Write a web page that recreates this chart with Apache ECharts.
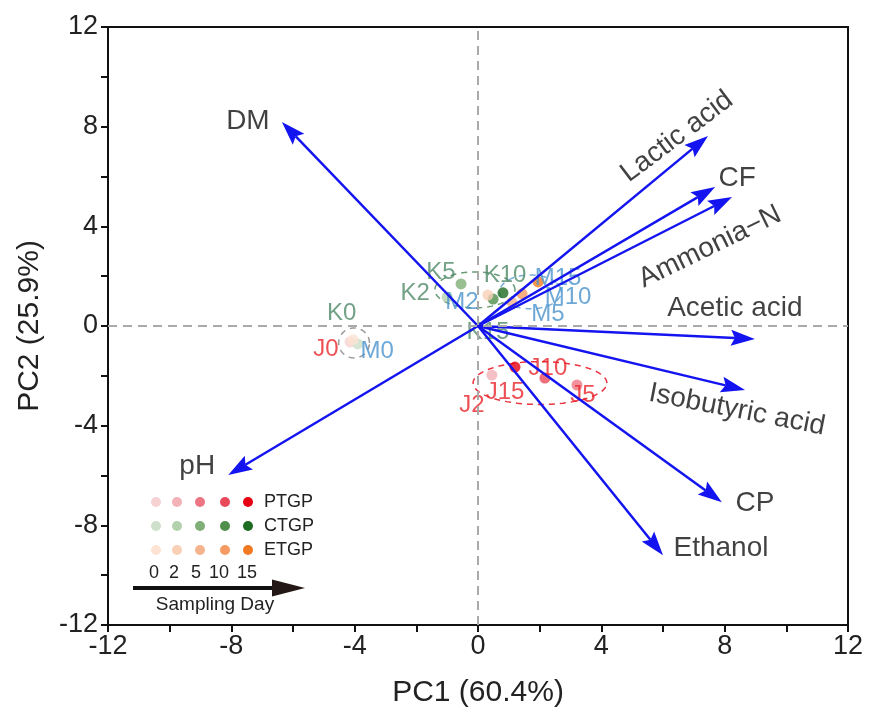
<!DOCTYPE html>
<html>
<head>
<meta charset="utf-8">
<script src="https://cdn.jsdelivr.net/npm/echarts@6/dist/echarts.min.js"></script>
<style>
html,body{margin:0;padding:0;background:#fff;}
#main{width:871px;height:709px;}
</style>
</head>
<body>
<div id="main"></div>
<script>
// loading vectors (arrow tips)
var varNames = ['DM', 'Lactic acid', 'CF', 'Ammonia\u2212N', 'Acetic acid', 'Isobutyric acid', 'CP', 'Ethanol', 'pH'];
var varPC1 = [-6.36, 7.46, 7.69, 8.24, 8.98, 8.66, 7.91, 6.0, -8.1];
var varPC2 = [8.19, 7.63, 5.58, 5.18, -0.52, -2.57, -7.07, -9.2, -5.98];

// sample scores, days 0,2,5,10,15
var days = ['0', '2', '5', '10', '15'];
var ptgpPC1 = [-4.15, 0.45, 3.21, 2.17, 1.2];
var ptgpPC2 = [-0.64, -1.97, -2.37, -2.09, -1.65];
var ctgpPC1 = [-3.9, -1.0, -0.55, 0.49, 0.81];
var ctgpPC2 = [-0.72, 1.16, 1.69, 1.08, 1.33];
var etgpPC1 = [-4.05, 0.32, 1.1, 1.43, 1.95];
var etgpPC2 = [-0.55, 1.24, 0.95, 1.29, 1.77];

// confidence ellipses: cx, cy, rx, ry
var ellipseCX = [2.01, -0.1, 1.7, -4.02];
var ellipseCY = [-2.29, 1.45, 1.37, -0.68];
var ellipseRX = [2.17, 1.3, 1.0, 0.5];
var ellipseRY = [0.86, 0.72, 0.68, 0.6];

var ptgpColors = ['#f7d2d3', '#f2b2b8', '#ee7683', '#e94a5a', '#e60012'];
var ctgpColors = ['#cde0c9', '#b3d1ad', '#7fae77', '#4f8f4b', '#1f6b22'];
var etgpColors = ['#fce3d3', '#f9d0b6', '#f7b48c', '#f59a62', '#f27a22'];
var ellipseColors = ['#e8343f', '#6a9a78', '#7aaed8', '#9a9a9a'];

var FONT = 'Liberation Sans, Arial, sans-serif';

// label offsets in px (text centre relative to point, screen frame)
var jOff = [[-24, 7], [-20, 30], [6, 10], [3, -10], [-10, 25]];
var kOff = [[-16, -31], [-32, -4], [-20, -12], [12, -24], [-15, 40]];
var mOff = [[24, 12], [-26, 7], [36, 12], [46, 4], [20, -4]];
var varOff = [[-34, -1], [-31, 1], [22, -9], [-22, 50], [-20, -31], [-8, 20], [33, 1], [58, -7], [-31, -9]];
var varRot = [0, 37, 0, 26, 0, -11, 0, 0, 0];

// label offset is applied in the rotated frame, so undo the rotation
function unrotate(off, deg) {
  var a = deg * Math.PI / 180, c = Math.cos(a), s = Math.sin(a);
  return [off[0] * c - off[1] * s, off[0] * s + off[1] * c];
}

function sampleData(prefix, xs, ys, colors, offs, labelColor) {
  var out = [];
  for (var i = 0; i < xs.length; i++) {
    out.push({
      value: [xs[i], ys[i]],
      itemStyle: { color: colors[i] },
      label: {
        show: true, formatter: prefix + days[i], position: 'inside',
        offset: offs[i], color: labelColor, fontSize: 24, fontFamily: FONT
      }
    });
  }
  return out;
}

var arrows = [];
var varLabels = [];
for (var i = 0; i < varNames.length; i++) {
  arrows.push([varPC1[i], varPC2[i]]);
  varLabels.push({
    value: [varPC1[i], varPC2[i]],
    label: { show: true, formatter: varNames[i], position: 'inside', offset: unrotate(varOff[i], varRot[i]), rotate: varRot[i] }
  });
}

var ellipses = [];
for (var i = 0; i < ellipseCX.length; i++) {
  ellipses.push([ellipseCX[i], ellipseCY[i], ellipseRX[i], ellipseRY[i]]);
}

// legend graphics
var legendX = [156, 177, 200, 225, 248];
var numX = [154, 174, 196, 219, 247];
var legendY = [502, 526, 550];
var legendNames = ['PTGP', 'CTGP', 'ETGP'];
var legendSets = [ptgpColors, ctgpColors, etgpColors];
var graphics = [];
for (var r = 0; r < 3; r++) {
  for (var c = 0; c < 5; c++) {
    graphics.push({ type: 'circle', shape: { cx: legendX[c], cy: legendY[r], r: 5 }, style: { fill: legendSets[r][c] } });
  }
  graphics.push({ type: 'text', x: 264, y: legendY[r], style: { text: legendNames[r], fill: '#222', font: '18px ' + FONT, verticalAlign: 'middle' } });
}
for (var c = 0; c < 5; c++) {
  graphics.push({ type: 'text', x: numX[c], y: 573, style: { text: days[c], fill: '#222', font: '18px ' + FONT, align: 'center', verticalAlign: 'middle' } });
}
graphics.push({ type: 'line', shape: { x1: 133, y1: 588, x2: 280, y2: 588 }, style: { stroke: '#111', lineWidth: 4 } });
graphics.push({ type: 'polygon', shape: { points: [[272, 579.5], [305, 588], [272, 596.5]] }, style: { fill: '#231815' } });
graphics.push({ type: 'text', x: 215, y: 605, style: { text: 'Sampling Day', fill: '#222', font: '19px ' + FONT, align: 'center', verticalAlign: 'middle' } });

var chart = echarts.init(document.getElementById('main'));
var axisCommon = {
  type: 'value', min: -12, max: 12, interval: 4,
  axisLine: { onZero: false, lineStyle: { color: '#111', width: 2 } },
  axisTick: { show: true, length: 7, lineStyle: { color: '#111', width: 2 } },
  minorTick: { show: true, splitNumber: 2, length: 7, lineStyle: { color: '#111', width: 2 } },
  splitLine: { show: false },
  axisLabel: { color: '#222', fontSize: 27, fontFamily: FONT, margin: 8 },
  nameLocation: 'middle',
  nameTextStyle: { color: '#222', fontSize: 30, fontFamily: FONT }
};
var option = {
  backgroundColor: '#fff',
  animation: false,
  grid: {
    left: 108, right: 23, top: 27, bottom: 84, containLabel: false, outerBoundsMode: 'none',
    show: true, borderColor: '#111', borderWidth: 2
  },
  xAxis: echarts.util.merge({ name: 'PC1 (60.4%)', nameGap: 53 }, axisCommon),
  yAxis: echarts.util.merge({ name: 'PC2 (25.9%)', nameGap: 63, axisLabel: { margin: 10 } }, axisCommon),
  graphic: graphics,
  series: [
    {
      type: 'custom',
      silent: true,
      z: 1,
      data: ellipses,
      renderItem: function (params, api) {
        var cx = api.value(0), cy = api.value(1), rx = api.value(2), ry = api.value(3);
        var pts = [];
        for (var k = 0; k < 72; k++) {
          var t = Math.PI * 2 * k / 72;
          pts.push(api.coord([cx + rx * Math.cos(t), cy + ry * Math.sin(t)]));
        }
        return {
          type: 'polygon', shape: { points: pts },
          style: { fill: 'none', stroke: ellipseColors[params.dataIndex], lineWidth: 1.5, lineDash: [6, 5] }
        };
      },
      markLine: {
        silent: true, symbol: 'none', label: { show: false },
        lineStyle: { color: '#aaa', type: [9, 6], width: 2 },
        data: [{ xAxis: 0 }, { yAxis: 0 }]
      }
    },
    { type: 'scatter', z: 2, symbolSize: 11, data: sampleData('J', ptgpPC1, ptgpPC2, ptgpColors, jOff, '#e8262a') },
    { type: 'scatter', z: 2, symbolSize: 11, data: sampleData('K', ctgpPC1, ctgpPC2, ctgpColors, kOff, '#4f8a68') },
    { type: 'scatter', z: 2, symbolSize: 11, data: sampleData('M', etgpPC1, etgpPC2, etgpColors, mOff, '#4a92cc') },
    {
      type: 'custom',
      silent: true,
      z: 3,
      data: arrows,
      renderItem: function (params, api) {
        var p0 = api.coord([0, 0]);
        var p1 = api.coord([api.value(0), api.value(1)]);
        var dx = p1[0] - p0[0], dy = p1[1] - p0[1];
        var len = Math.sqrt(dx * dx + dy * dy);
        var ux = dx / len, uy = dy / len, nx = -uy, ny = ux;
        var headLen = 24, headHalf = 8, notch = 4;
        var bx = p1[0] - ux * headLen, by = p1[1] - uy * headLen;
        var mx = p1[0] - ux * (headLen - notch), my = p1[1] - uy * (headLen - notch);
        return {
          type: 'group',
          children: [
            { type: 'line', shape: { x1: p0[0], y1: p0[1], x2: mx, y2: my }, style: { stroke: '#1414f0', lineWidth: 2.5 } },
            { type: 'polygon', shape: { points: [p1, [bx + nx * headHalf, by + ny * headHalf], [mx, my], [bx - nx * headHalf, by - ny * headHalf]] }, style: { fill: '#1414f0' } }
          ]
        };
      }
    },
    {
      type: 'scatter', z: 4, symbolSize: 0, silent: true,
      label: { color: '#111', fontSize: 28, fontFamily: FONT },
      data: varLabels
    }
  ]
};
chart.setOption(option);
</script>
</body>
</html>
